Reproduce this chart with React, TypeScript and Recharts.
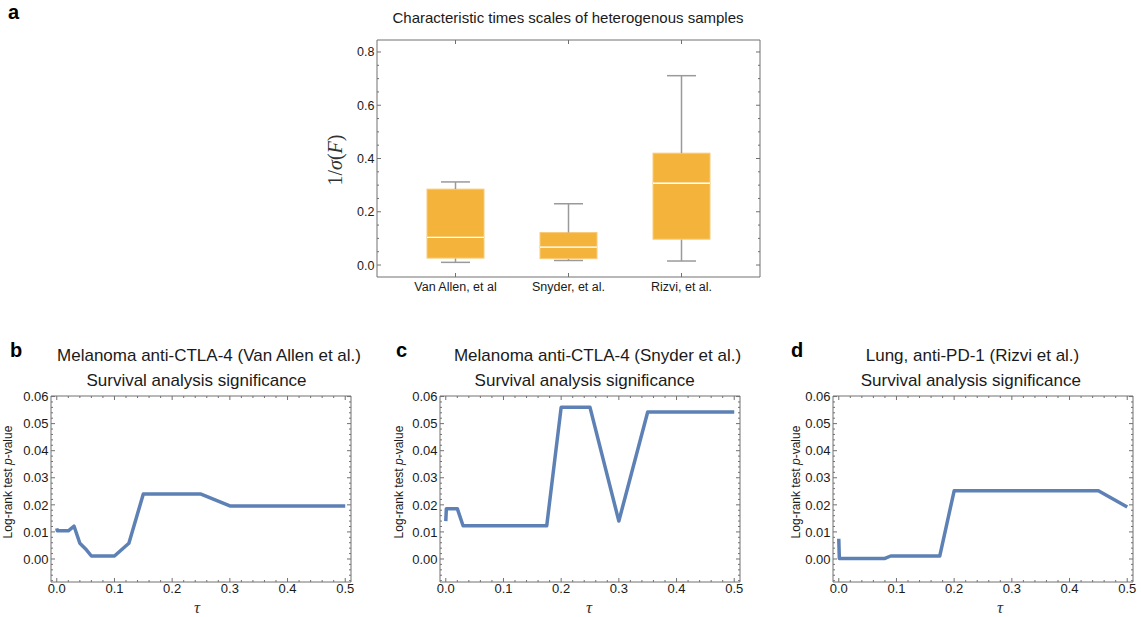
import React from "react";
import { ComposedChart, LineChart, Line, Bar, XAxis, YAxis } from "recharts";

const FRAME = "#707070";
const BLUE = "#5E81B5";
const ORANGE = "#F4B43C";
const WHISKER = "#9a9a9a";
const SANS = "'Liberation Sans', Arial, Helvetica, sans-serif";
const SERIF = "'Liberation Serif', 'DejaVu Serif', serif";

// panel a: box plot summaries
const studies = ["Van Allen, et al", "Snyder, et al.", "Rizvi, et al."];
const mins = [0.01, 0.017, 0.015];
const q1s = [0.026, 0.024, 0.097];
const medians = [0.104, 0.067, 0.307];
const q3s = [0.285, 0.122, 0.42];
const maxs = [0.312, 0.23, 0.711];

// panels b-d: log-rank p-value vs tau
const tauB = [0, 0.001, 0.01, 0.02, 0.03, 0.04, 0.05, 0.06, 0.07, 0.08, 0.09, 0.1, 0.125, 0.15, 0.175, 0.2, 0.25, 0.3, 0.35, 0.4, 0.45, 0.5];
const pB = [0.0113, 0.0104, 0.0104, 0.0104, 0.0121, 0.0058, 0.0037, 0.0011, 0.0011, 0.0011, 0.0011, 0.0011, 0.0058, 0.024, 0.024, 0.024, 0.024, 0.0196, 0.0196, 0.0196, 0.0196, 0.0196];

const tauC = [0, 0.001, 0.01, 0.02, 0.03, 0.1, 0.175, 0.2, 0.25, 0.3, 0.35, 0.4, 0.45, 0.5];
const pC = [0.014, 0.0186, 0.0186, 0.0186, 0.0123, 0.0123, 0.0123, 0.056, 0.056, 0.014, 0.0543, 0.0543, 0.0543, 0.0543];

const tauD = [0, 0.001, 0.08, 0.09, 0.175, 0.2, 0.3, 0.45, 0.5];
const pD = [0.0075, 0.0002, 0.0002, 0.0011, 0.0011, 0.0252, 0.0252, 0.0252, 0.0192];

// tick labels
const sigmaMajor = [0, 0.2, 0.4, 0.6, 0.8];
const tauMajor = [0, 0.1, 0.2, 0.3, 0.4, 0.5];
const pMajor = [0, 0.01, 0.02, 0.03, 0.04, 0.05, 0.06];

const steps = (from: number, to: number, step: number) => {
  const out: number[] = [];
  for (let v = from; v <= to + 1e-9; v += step) out.push(Math.round(v * 1e6) / 1e6);
  return out;
};
const sigmaTicks = steps(0, 0.8, 0.05);
const tauTicks = steps(0, 0.5, 0.02);
const pTicks = steps(-0.008, 0.06, 0.002);

type Side = "left" | "right" | "top" | "bottom";

function frameTick(side: Side, majors: number[] | null, fmt: ((v: any) => string) | null, fontSize = 13, gap = 11) {
  return (props: any) => {
    const { x, y, payload } = props;
    const v = payload.value;
    const major = !majors || majors.some((m) => Math.abs(m - v) < 1e-9);
    const len = major ? 4 : 2;
    let line = null;
    let label = null;
    const txt = { fontFamily: SANS, fontSize, fill: "#1a1a1a" };
    if (side === "left") {
      line = <line x1={x} x2={x + len} y1={y} y2={y} stroke={FRAME} />;
      if (major && fmt) label = <text x={x - 2.5} y={y} dy="0.36em" textAnchor="end" {...txt}>{fmt(v)}</text>;
    } else if (side === "right") {
      line = <line x1={x} x2={x - len} y1={y} y2={y} stroke={FRAME} />;
    } else if (side === "bottom") {
      line = <line x1={x} x2={x} y1={y} y2={y - len} stroke={FRAME} />;
      if (major && fmt) label = <text x={x} y={y + gap} textAnchor="middle" {...txt}>{fmt(v)}</text>;
    } else {
      line = <line x1={x} x2={x} y1={y} y2={y + len} stroke={FRAME} />;
    }
    return <g>{line}{label}</g>;
  };
}

const axisLine = { stroke: FRAME, strokeWidth: 1 };

const LowWhisker = (props: any) => {
  const { x, y, width, height } = props;
  const cx = x + width / 2;
  return (
    <g>
      <line x1={cx} x2={cx} y1={y} y2={y + height} stroke={WHISKER} strokeWidth={1.5} />
      <line x1={cx - 14.5} x2={cx + 14.5} y1={y + height} y2={y + height} stroke={WHISKER} strokeWidth={1.5} />
    </g>
  );
};

const HighWhisker = (props: any) => {
  const { x, y, width, height } = props;
  const cx = x + width / 2;
  return (
    <g>
      <line x1={cx} x2={cx} y1={y} y2={y + height} stroke={WHISKER} strokeWidth={1.5} />
      <line x1={cx - 14.5} x2={cx + 14.5} y1={y} y2={y} stroke={WHISKER} strokeWidth={1.5} />
    </g>
  );
};

const BoxLow = (props: any) => {
  const { x, y, width, height } = props;
  return <rect x={x} y={y} width={width} height={height} fill={ORANGE} stroke="#F8CB7A" strokeWidth={1} />;
};

const BoxHigh = (props: any) => {
  const { x, y, width, height } = props;
  return (
    <g>
      <rect x={x} y={y} width={width} height={height} fill={ORANGE} stroke="#F8CB7A" strokeWidth={1} />
      <line x1={x} x2={x + width} y1={y + height} y2={y + height} stroke="#ffffff" strokeWidth={1.3} />
    </g>
  );
};

function BoxPanel() {
  const rows = studies.map((name, i) => ({
    name,
    base: mins[i],
    lowW: q1s[i] - mins[i],
    lowBox: medians[i] - q1s[i],
    highBox: q3s[i] - medians[i],
    highW: maxs[i] - q3s[i],
  }));
  const pad = { left: 22, right: 22 };
  const dom: [number, number] = [-0.045, 0.845];
  return (
    <div style={{ position: "absolute", left: 317, top: 30 }}>
      <ComposedChart width={453} height={277} data={rows} margin={{ top: 9, right: 9, left: 0, bottom: 0 }} barCategoryGap={0}>
        <XAxis dataKey="name" type="category" padding={pad} height={30} tickSize={0} tickMargin={0} interval={0}
          axisLine={axisLine} tickLine={false} tick={frameTick("bottom", null, (v) => String(v), 12.5, 14)} />
        <XAxis xAxisId="top" dataKey="name" type="category" orientation="top" padding={pad} height={1} tickSize={0} tickMargin={0}
          interval={0} axisLine={axisLine} tickLine={false} tick={frameTick("top", null, null)} />
        <YAxis type="number" domain={dom} allowDataOverflow ticks={sigmaTicks} interval={0} width={60} tickSize={0} tickMargin={0}
          axisLine={axisLine} tickLine={false} tick={frameTick("left", sigmaMajor, (v) => v.toFixed(1), 12.5)} />
        <YAxis yAxisId="right" orientation="right" type="number" domain={dom} allowDataOverflow ticks={sigmaTicks} interval={0}
          width={1} tickSize={0} tickMargin={0} axisLine={axisLine} tickLine={false} tick={frameTick("right", sigmaMajor, null)} />
        <Bar dataKey="base" stackId="s" fill="none" barSize={57} isAnimationActive={false} />
        <Bar dataKey="lowW" stackId="s" barSize={57} shape={LowWhisker} isAnimationActive={false} />
        <Bar dataKey="lowBox" stackId="s" barSize={57} shape={BoxLow} isAnimationActive={false} />
        <Bar dataKey="highBox" stackId="s" barSize={57} shape={BoxHigh} isAnimationActive={false} />
        <Bar dataKey="highW" stackId="s" barSize={57} shape={HighWhisker} isAnimationActive={false} />
      </ComposedChart>
    </div>
  );
}

function SurvivalPanel({ left, tau, p }: { left: number; tau: number[]; p: number[] }) {
  const data = tau.map((t, i) => ({ tau: t, p: p[i] }));
  const xDom: [number, number] = [-0.01, 0.51];
  const yDom: [number, number] = [-0.0085, 0.0602];
  return (
    <div style={{ position: "absolute", left: left - 50, top: 386 }}>
      <LineChart width={360} height={226} data={data} margin={{ top: 9, right: 9, left: 0, bottom: 0 }}>
        <XAxis dataKey="tau" type="number" domain={xDom} allowDataOverflow ticks={tauTicks} interval={0} height={30}
          tickSize={0} tickMargin={0} axisLine={axisLine} tickLine={false}
          tick={frameTick("bottom", tauMajor, (v) => v.toFixed(1), 13, 11)} />
        <XAxis xAxisId="top" orientation="top" dataKey="tau" type="number" domain={xDom} allowDataOverflow ticks={tauTicks}
          interval={0} height={1} tickSize={0} tickMargin={0} axisLine={axisLine} tickLine={false}
          tick={frameTick("top", tauMajor, null)} />
        <YAxis type="number" domain={yDom} allowDataOverflow ticks={pTicks} interval={0} width={50} tickSize={0} tickMargin={0}
          axisLine={axisLine} tickLine={false} tick={frameTick("left", pMajor, (v) => v.toFixed(2), 13)} />
        <YAxis yAxisId="right" orientation="right" type="number" domain={yDom} allowDataOverflow ticks={pTicks} interval={0}
          width={1} tickSize={0} tickMargin={0} axisLine={axisLine} tickLine={false} tick={frameTick("right", pMajor, null)} />
        <Line type="linear" dataKey="p" stroke={BLUE} strokeWidth={3.5} dot={false} strokeLinejoin="round"
          isAnimationActive={false} />
      </LineChart>
    </div>
  );
}

const panels = [
  { letter: "b", lx: 10, title: "Melanoma anti-CTLA-4 (Van Allen et al.)", t1: 209, t2: 196.5, ylab: 8, tauX: 197 },
  { letter: "c", lx: 396, title: "Melanoma anti-CTLA-4 (Snyder et al.)", t1: 597.5, t2: 584.7, ylab: 399, tauX: 589 },
  { letter: "d", lx: 791, title: "Lung, anti-PD-1 (Rizvi et al.)", t1: 972.5, t2: 970.8, ylab: 795.5, tauX: 1000 },
];

export default function App() {
  return (
    <div style={{ position: "absolute", left: 0, top: 0, width: 1141, height: 617, background: "#fff", overflow: "hidden" }}>
      <BoxPanel />
      <SurvivalPanel left={51} tau={tauB} p={pB} />
      <SurvivalPanel left={440} tau={tauC} p={pC} />
      <SurvivalPanel left={832.5} tau={tauD} p={pD} />
      <svg width={1141} height={617} style={{ position: "absolute", left: 0, top: 0, pointerEvents: "none" }}>
        <text x={8} y={19} fontFamily={SANS} fontWeight="bold" fontSize={20} fill="#000">a</text>
        <text x={568} y={23} textAnchor="middle" fontFamily={SANS} fontSize={15} fill="#1a1a1a">
          Characteristic times scales of heterogenous samples
        </text>
        <text transform="translate(335,160) rotate(-90)" textAnchor="middle" dominantBaseline="central" fontFamily={SERIF}
          fontSize={20} fill="#333">
          1/<tspan fontStyle="italic">σ</tspan>(<tspan fontStyle="italic">F</tspan>)
        </text>
        {panels.map((pn) => (
          <g key={pn.letter}>
            <text x={pn.lx} y={357} fontFamily={SANS} fontWeight="bold" fontSize={20} fill="#000">{pn.letter}</text>
            <text x={pn.t1} y={361} textAnchor="middle" fontFamily={SANS} fontSize={17} fill="#1a1a1a">{pn.title}</text>
            <text x={pn.t2} y={386} textAnchor="middle" fontFamily={SANS} fontSize={17} fill="#1a1a1a">
              Survival analysis significance
            </text>
            <text transform={`translate(${pn.ylab},482) rotate(-90)`} textAnchor="middle" dominantBaseline="central"
              fontFamily={SANS} fontSize={12} fill="#1a1a1a">
              Log-rank test <tspan fontStyle="italic">p</tspan>-value
            </text>
            <text x={pn.tauX} y={607} textAnchor="middle" dominantBaseline="central" fontFamily={SERIF} fontStyle="italic"
              fontSize={17} fill="#333">τ</text>
          </g>
        ))}
      </svg>
    </div>
  );
}
